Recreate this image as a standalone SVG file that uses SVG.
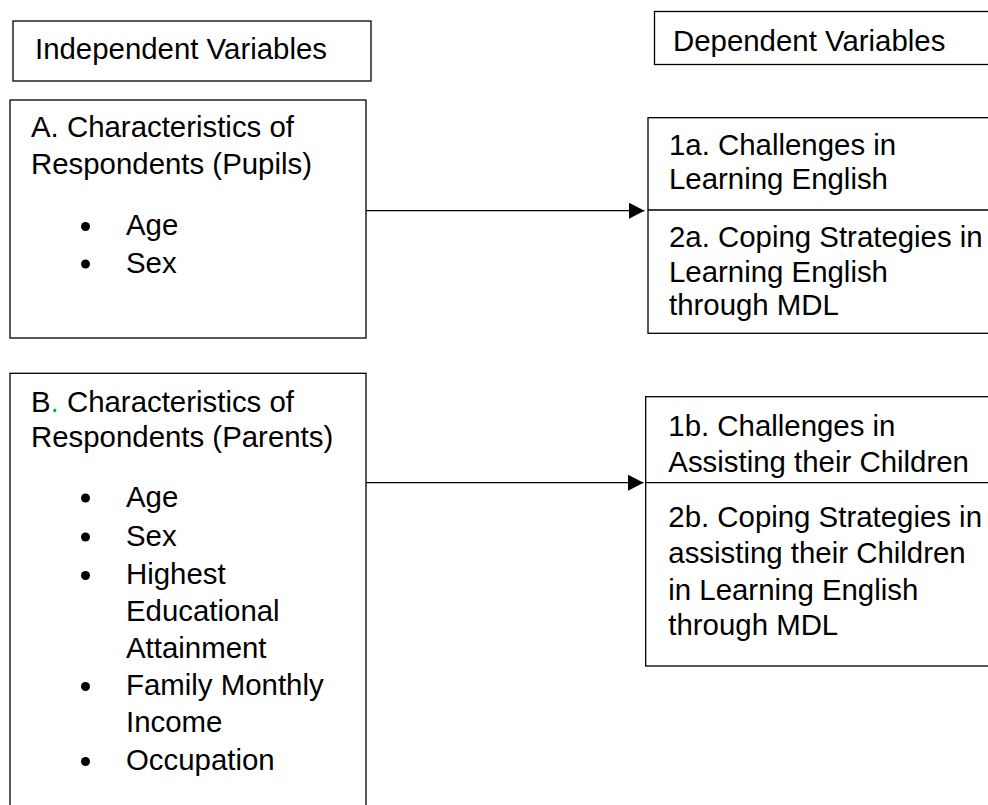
<svg xmlns="http://www.w3.org/2000/svg" width="988" height="805" viewBox="0 0 988 805">
<style>
.box{fill:#fff;stroke:#000;stroke-width:1.3}
.t{font-family:"Liberation Sans",Arial,sans-serif;font-size:29.4px;fill:#000}
.ln{stroke:#000;stroke-width:1.3;fill:none}
.b{fill:#000}
</style>
<defs>
<marker id="ah" markerUnits="userSpaceOnUse" markerWidth="16" markerHeight="17" refX="15.5" refY="8" orient="auto">
<path d="M0,0 L15.5,8 L0,16 Z" fill="#000"/>
</marker>
</defs>
<rect width="988" height="805" fill="#fff"/>
<g id="connectors">
<line class="ln" x1="366" y1="210.7" x2="644.5" y2="210.7" marker-end="url(#ah)"/>
<line class="ln" x1="366" y1="482.7" x2="643.5" y2="482.7" marker-end="url(#ah)"/>
</g>
<g id="independent-header">
<rect class="box" x="13" y="21" width="358" height="60"/>
<text class="t" x="35" y="59">Independent Variables</text>
</g>
<g id="dependent-header">
<rect class="box" x="654.5" y="11.5" width="340" height="53"/>
<text class="t" x="673" y="51">Dependent Variables</text>
</g>
<g id="node-a">
<rect class="box" x="10" y="100" width="356" height="238"/>
<text class="t" x="31" y="137">A. Characteristics of</text>
<text class="t" x="31" y="174">Respondents (Pupils)</text>
<circle class="b" cx="85.5" cy="226.5" r="4.5"/>
<text class="t" x="126" y="235">Age</text>
<circle class="b" cx="85.5" cy="264" r="4.5"/>
<text class="t" x="126" y="272.5">Sex</text>
</g>
<g id="node-1a-2a">
<rect class="box" x="648" y="117.7" width="350" height="215.6"/>
<line class="ln" x1="648" y1="210" x2="998" y2="210"/>
<text class="t" x="669" y="155">1a. Challenges in</text>
<text class="t" x="669" y="189.3">Learning English</text>
<text class="t" x="669" y="246.7">2a. Coping Strategies in</text>
<text class="t" x="669" y="281.7">Learning English</text>
<text class="t" x="669" y="315">through MDL</text>
</g>
<g id="node-b">
<rect class="box" x="10" y="373.3" width="356" height="450"/>
<text class="t" x="31" y="411.7">B<tspan fill="#00b050">.</tspan> Characteristics of</text>
<text class="t" x="31" y="447.3">Respondents (Parents)</text>
<circle class="b" cx="85.5" cy="498" r="4.5"/>
<text class="t" x="126" y="506.7">Age</text>
<circle class="b" cx="85.5" cy="537" r="4.5"/>
<text class="t" x="126" y="545.7">Sex</text>
<circle class="b" cx="85.5" cy="575.5" r="4.5"/>
<text class="t" x="126" y="584">Highest</text>
<text class="t" x="126" y="620.7">Educational</text>
<text class="t" x="126" y="657.7">Attainment</text>
<circle class="b" cx="85.5" cy="686.5" r="4.5"/>
<text class="t" x="126" y="695">Family Monthly</text>
<text class="t" x="126" y="732.3">Income</text>
<circle class="b" cx="85.5" cy="761.5" r="4.5"/>
<text class="t" x="126" y="770">Occupation</text>
</g>
<g id="node-1b-2b">
<rect class="box" x="645.7" y="396.7" width="350" height="269.3"/>
<line class="ln" x1="645.7" y1="482.7" x2="998" y2="482.7"/>
<text class="t" x="668.3" y="436">1b. Challenges in</text>
<text class="t" x="668.3" y="471.7">Assisting their Children</text>
<text class="t" x="668.3" y="526.7">2b. Coping Strategies in</text>
<text class="t" x="668.3" y="563.3">assisting their Children</text>
<text class="t" x="668.3" y="600">in Learning English</text>
<text class="t" x="668.3" y="635">through MDL</text>
</g>
</svg>
